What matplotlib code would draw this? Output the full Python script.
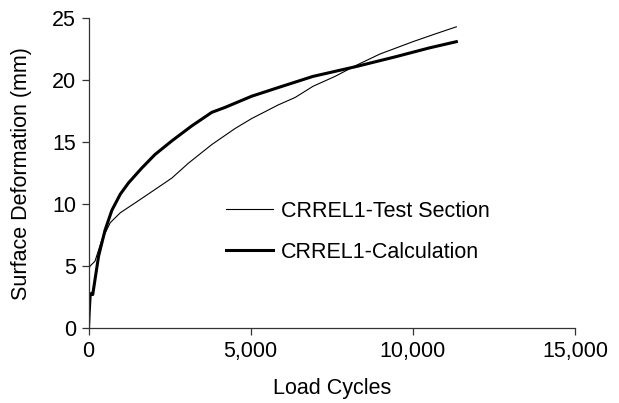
import matplotlib
matplotlib.use("Agg")
import matplotlib.pyplot as plt
from matplotlib.ticker import FuncFormatter

# measured rut depth vs. load repetitions
test_cycles = [0, 30, 50, 200, 410, 670, 980, 1440, 1950, 2570, 3080, 3800,
               4520, 5030, 5850, 6370, 6920, 7600, 8260, 8980, 10000, 10660,
               11340]
test_depth = [0.0, 4.9, 5.0, 5.4, 7.1, 8.5, 9.3, 10.1, 11.0, 12.1, 13.3, 14.8,
              16.1, 16.9, 18.0, 18.6, 19.5, 20.3, 21.2, 22.1, 23.1, 23.7,
              24.3]

# model prediction
calc_cycles = [0, 20, 50, 90, 130, 310, 510, 720, 980, 1230, 1640, 2050,
               2570, 3180, 3800, 4210, 5030, 5850, 6920, 8260, 9490, 10510,
               11340]
calc_depth = [0.0, 1.2, 2.6, 2.8, 2.7, 5.8, 7.9, 9.5, 10.8, 11.7, 12.9, 14.0,
              15.1, 16.3, 17.4, 17.8, 18.7, 19.4, 20.3, 21.1, 21.9, 22.6,
              23.1]

x_ticks = [0, 5000, 10000, 15000]
y_ticks = [0, 5, 10, 15, 20, 25]

FS = 15.5
plt.rcParams["font.family"] = ["Liberation Sans", "DejaVu Sans"]
plt.rcParams["font.size"] = FS

fig = plt.figure(figsize=(6.19, 4.03), dpi=100)
ax = fig.add_axes([0.143, 0.186, 0.786, 0.769])

ax.plot(test_cycles, test_depth, color="black", lw=0.8,
        label="CRREL1-Test Section")
ax.plot(calc_cycles, calc_depth, color="black", lw=2.2,
        label="CRREL1-Calculation")

ax.set_xlim(0, 15000)
ax.set_ylim(0, 25)
ax.set_xticks(x_ticks)
ax.set_yticks(y_ticks)
ax.xaxis.set_major_formatter(FuncFormatter(lambda v, p: f"{int(v):,}"))

ax.spines["top"].set_visible(False)
ax.spines["right"].set_visible(False)
for s in ("left", "bottom"):
    ax.spines[s].set_linewidth(0.9)
    ax.spines[s].set_color("#333333")
ax.tick_params(direction="out", length=5, width=0.9, color="#333333",
               labelsize=FS, pad=4)

ax.set_xlabel("Load Cycles", fontsize=FS, labelpad=12)
ax.set_ylabel("Surface Deformation (mm)", fontsize=FS, labelpad=14)

ax.legend(loc="upper left", bbox_to_anchor=(0.282, 0.411), frameon=False,
          handlelength=2.2, handletextpad=0.35, labelspacing=0.93,
          borderpad=0, borderaxespad=0, fontsize=FS)

fig.savefig("out.png", dpi=100)
